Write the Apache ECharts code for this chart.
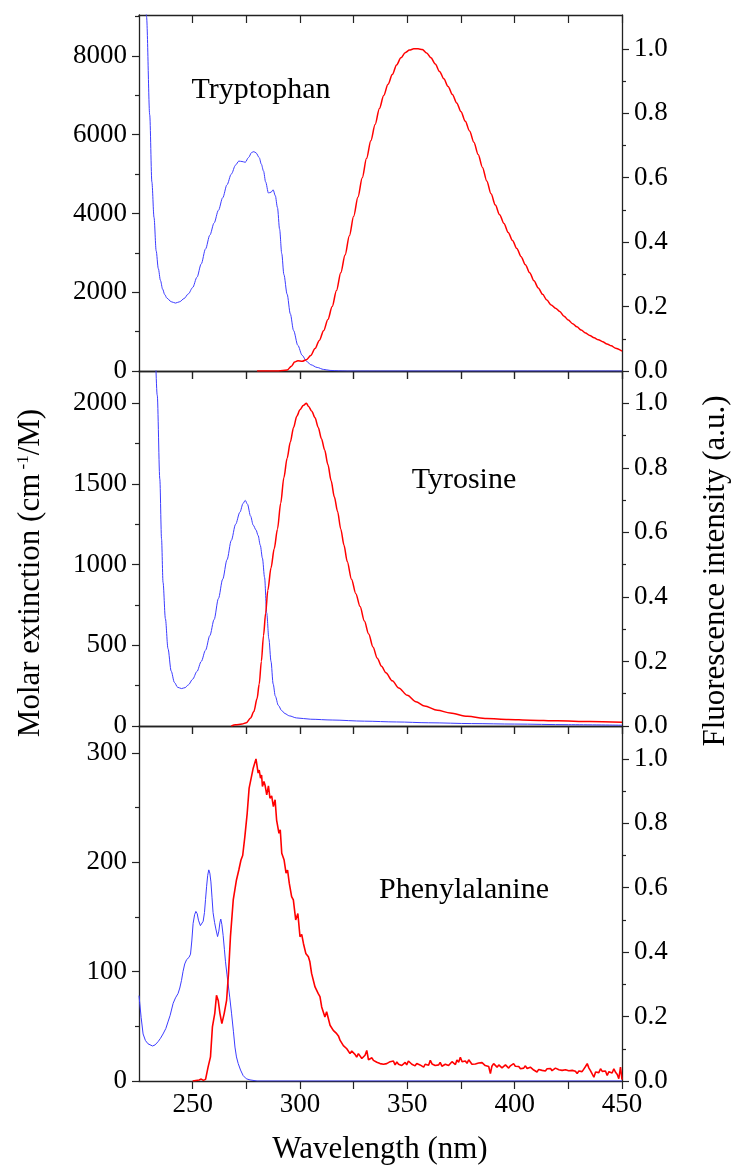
<!DOCTYPE html>
<html><head><meta charset="utf-8">
<script src="https://cdn.jsdelivr.net/npm/echarts@6/dist/echarts.min.js"></script>
<style>html,body{margin:0;padding:0;background:#fff}#c{width:734px;height:1167px}</style>
</head><body><div id="c"></div>
<script>
// ---------- data (wavelength nm, value) ----------
const wlTicks = [250,275,300,325,350,375,400,425,450];
const wlLabels = [250,300,350,400,450];
const flMajor = [0,0.2,0.4,0.6,0.8,1.0];
const flMinor = [0.1,0.3,0.5,0.7,0.9];
const trpMajor = [0,2000,4000,6000,8000];
const trpMinor = [1000,3000,5000,7000,9000];
const tyrMajor = [0,500,1000,1500,2000];
const tyrMinor = [250,750,1250,1750];
const pheMajor = [0,100,200,300];
const pheMinor = [50,150,250];
const names = ['Tryptophan','Tyrosine','Phenylalanine'];

const trpAbs = [[225,15000],[227,11000],[228.5,9000],[230,6500],[231,4800],[232,3900],[233,3050],[234,2600],[235,2300],[236,2080],[237,1940],[238,1850],[240,1760],[242,1725],[244,1760],[246,1840],[248,1960],[250,2120],[252,2380],[254,2720],[256,3100],[258,3450],[260,3760],[262,4080],[264,4400],[266,4730],[268,5000],[270,5230],[271.5,5330],[273,5320],[274.5,5300],[276,5420],[277.5,5550],[278.5,5570],[279.5,5540],[281,5420],[282,5250],[283,5080],[284,4800],[285.3,4520],[286.5,4540],[287.5,4600],[288.5,4450],[289.5,4150],[290.5,3600],[291.5,2980],[292.5,2450],[294,1950],[295.5,1450],[297,1030],[299,650],[301,400],[303,250],[305,160],[308,90],[311,40],[314,15],[318,5],[322,0],[330,0],[340,0],[360,0],[380,0],[400,0],[425,0],[450,0]];

const trpFl = [[280,0],[290,0],[294,0.003],[296,0.015],[297.5,0.028],[299,0.032],[301,0.03],[303,0.035],[305,0.048],[307,0.07],[309,0.095],[311,0.125],[313,0.16],[315,0.2],[317,0.25],[319,0.305],[321,0.36],[323,0.42],[325,0.48],[327,0.54],[329,0.6],[331,0.66],[333,0.715],[335,0.765],[337,0.815],[339,0.855],[341,0.89],[343,0.92],[345,0.95],[347,0.972],[349,0.988],[351,0.996],[353,1.0],[355,1.0],[357,0.998],[359,0.987],[361,0.972],[363,0.953],[365,0.93],[367,0.907],[369,0.883],[371,0.858],[373,0.832],[375,0.805],[377,0.775],[379,0.745],[381,0.71],[383,0.672],[385,0.632],[387,0.59],[389,0.55],[391,0.515],[393,0.485],[395,0.458],[397,0.43],[399,0.405],[401,0.38],[403,0.355],[405,0.33],[407,0.305],[409,0.28],[411,0.258],[413,0.238],[415,0.22],[417,0.205],[419,0.195],[421,0.185],[423,0.17],[425,0.158],[427,0.147],[429,0.137],[431,0.127],[433,0.118],[435,0.11],[437,0.103],[439,0.097],[441,0.091],[443,0.084],[445,0.078],[447,0.071],[450,0.062]];

const tyrAbs = [[225,5000],[229,3600],[232,2500],[233.5,2050],[234.7,1530],[235.5,1160],[236.2,890],[237.3,665],[238.5,480],[240,340],[241.5,270],[243,240],[244.8,232],[246.5,238],[248,255],[250,290],[252,338],[254,400],[256,470],[258,560],[260,660],[262,790],[264,910],[266,1030],[268,1150],[270,1250],[272,1325],[273.5,1380],[274.5,1398],[275.5,1375],[277,1300],[278.2,1245],[279.5,1215],[280.5,1180],[281.5,1120],[282.5,1040],[283.5,920],[284.5,700],[285.5,540],[286.5,400],[287.5,260],[288.5,185],[289.9,128],[291.5,95],[293,77],[295,63],[298.4,50],[305,42],[315,37],[330,30],[345,25],[360,20],[380,15],[400,12],[425,8],[450,5]];

const tyrFl = [[268,0],[270,0.004],[273,0.006],[275,0.01],[277,0.025],[278.5,0.045],[280,0.085],[281,0.13],[282,0.2],[283,0.28],[284,0.35],[285,0.42],[286.5,0.49],[288,0.55],[289.5,0.61],[291,0.69],[292.5,0.77],[294,0.83],[295.5,0.88],[297,0.925],[298.5,0.96],[300,0.98],[301.5,0.993],[303,1.0],[304,0.99],[305.5,0.975],[307,0.955],[308.5,0.925],[310,0.89],[311.5,0.855],[313,0.81],[314.5,0.76],[316,0.71],[317.5,0.665],[319,0.61],[320.5,0.56],[322,0.51],[324,0.455],[326,0.41],[328,0.37],[330,0.325],[332,0.285],[334,0.245],[336,0.21],[338,0.185],[340,0.165],[343,0.14],[346,0.118],[350,0.095],[354,0.075],[358,0.062],[364,0.049],[370,0.04],[378,0.03],[387,0.023],[397,0.02],[407,0.018],[420,0.016],[435,0.014],[450,0.012]];

const pheAbs = [[225,78],[225.3,72],[226,58],[226.9,43],[228,37],[229.2,34],[231.3,32],[232.5,33],[233.9,36],[235,39],[236.2,43],[237.5,48],[238.5,54],[239.5,60],[240.9,71],[242,76],[243.2,80],[244,85],[244.8,92],[245.5,100],[246.3,107],[247.2,111],[248.3,113],[249,116],[249.6,128],[250.2,144],[250.9,152],[251.5,155],[252.1,153],[252.7,147],[253.6,142],[254.3,143],[254.9,146],[255.5,154],[256,166],[256.5,178],[257,188],[257.5,193],[258,190],[258.5,182],[259,168],[259.5,154],[260.2,145],[260.8,139],[261.6,132],[262.2,137],[262.7,145],[263.1,148],[263.6,143],[264.2,133],[264.8,120],[265.3,109],[266,97],[266.5,89],[267.3,76],[268.1,62],[269,45],[269.7,31],[270.4,22],[271.2,16],[272.3,10],[273.5,5],[275,2],[276.7,1],[280,0],[300,0],[350,0],[400,0],[450,0]];

const pheFl = [[250,0],[253,0.003],[254,0.006],[255,0.002],[256,0.005],[257.2,0.044],[258.3,0.075],[259.2,0.168],[260.3,0.21],[261.1,0.266],[261.9,0.25],[262.7,0.21],[263.6,0.178],[264.7,0.21],[265.8,0.25],[266.7,0.334],[267.6,0.448],[268.9,0.562],[270.4,0.624],[271.5,0.655],[272.5,0.686],[273.3,0.7],[274.3,0.758],[275.4,0.831],[276.3,0.909],[277.1,0.906],[278.2,0.971],[279.5,1.0],[280.5,0.956],[281,0.965],[281.6,0.94],[282.1,0.95],[282.5,0.914],[283.2,0.93],[283.7,0.919],[284.5,0.888],[285.3,0.916],[286,0.878],[286.8,0.885],[287.6,0.852],[288.4,0.873],[289.1,0.81],[290.2,0.769],[290.8,0.78],[291.5,0.707],[292.6,0.686],[293.5,0.645],[294.2,0.655],[295,0.614],[296.1,0.572],[296.9,0.562],[298,0.5],[299,0.52],[300,0.448],[300.8,0.455],[301.6,0.427],[302.7,0.396],[303.9,0.386],[304.6,0.37],[305.4,0.334],[306.2,0.33],[307,0.292],[308.5,0.271],[309.3,0.262],[310.1,0.23],[310.8,0.236],[311.6,0.199],[312.4,0.215],[313.2,0.22],[314,0.173],[314.8,0.168],[315.5,0.157],[316.3,0.163],[317.1,0.147],[317.9,0.14],[318.7,0.126],[319.5,0.13],[320.2,0.11],[321,0.115],[321.8,0.1],[322.6,0.096],[323.3,0.085],[324.1,0.093],[324.9,0.09],[325.7,0.082],[326.4,0.074],[327.2,0.085],[328,0.079],[328.8,0.07],[329.5,0.069],[330.3,0.08],[331.1,0.095],[331.9,0.066],[332.7,0.064],[333.5,0.072],[334.2,0.064],[335,0.069],[335.8,0.058],[336.5,0.062],[337.3,0.054],[338.1,0.06],[338.9,0.052],[339.6,0.058],[340.4,0.054],[341.2,0.049],[342,0.06],[342.7,0.055],[343.5,0.062],[344.3,0.05],[345.1,0.059],[345.9,0.052],[346.6,0.057],[347.4,0.048],[348.2,0.054],[349,0.058],[349.7,0.05],[350.5,0.062],[351.3,0.064],[352.1,0.052],[352.8,0.058],[353.6,0.047],[354.4,0.054],[355.2,0.06],[355.9,0.05],[356.7,0.055],[357.6,0.043],[358.3,0.052],[359.1,0.058],[359.9,0.049],[360.7,0.064],[361.5,0.053],[362.2,0.059],[363,0.048],[363.8,0.054],[364.6,0.05],[365.3,0.058],[366.1,0.046],[366.9,0.043],[367.7,0.052],[368.5,0.056],[369.2,0.048],[370,0.053],[370.8,0.06],[371.6,0.059],[372.4,0.051],[373.1,0.065],[373.9,0.058],[374.7,0.074],[375.5,0.06],[376.2,0.054],[377,0.062],[377.8,0.055],[378.6,0.066],[379.3,0.064],[380.1,0.052],[380.9,0.058],[381.7,0.053],[382.4,0.049],[383.2,0.056],[384,0.05],[384.8,0.057],[385.5,0.059],[386.3,0.048],[387.1,0.053],[387.9,0.045],[388.7,0.023],[389.4,0.046],[390.2,0.054],[391,0.048],[391.8,0.043],[392.6,0.05],[393.3,0.045],[394.1,0.041],[394.9,0.043],[395.7,0.05],[396.5,0.044],[397.2,0.04],[398,0.047],[398.8,0.042],[399.5,0.054],[400.3,0.046],[401.1,0.041],[401.9,0.045],[402.7,0.038],[403.4,0.044],[404.2,0.04],[405,0.047],[405.8,0.039],[406.6,0.036],[407.3,0.043],[408.1,0.04],[408.9,0.034],[409.7,0.037],[410.4,0.028],[411.2,0.036],[412,0.04],[412.8,0.033],[413.5,0.037],[414.3,0.031],[415.1,0.038],[415.9,0.034],[416.7,0.039],[417.4,0.032],[418.2,0.036],[419,0.04],[419.8,0.043],[420.6,0.035],[421.3,0.038],[422.1,0.033],[422.9,0.028],[423.7,0.035],[424.4,0.039],[425.2,0.032],[426,0.038],[426.8,0.033],[427.6,0.036],[428.3,0.03],[429.1,0.023],[429.9,0.031],[430.7,0.035],[431.4,0.029],[432.2,0.037],[433,0.045],[433.8,0.054],[434.6,0.04],[435.3,0.032],[436.1,0.035],[436.9,0.012],[437.7,0.028],[438.5,0.033],[439.2,0.026],[440,0.038],[440.8,0.03],[441.6,0.024],[442.3,0.031],[443.1,0.017],[443.9,0.029],[444.7,0.034],[445.4,0.025],[446.2,0.038],[447,0.027],[447.8,0.02],[448.5,0.007],[449.3,0.043],[450,0.004]];

// ---------- layout ----------
const FONT = 'Liberation Serif';
const AX = '#222';
const BLUE = '#3c3cff';
const RED = '#ff0000';
const panels = [
  {top:15,  height:356, lMax:9040, lMajor:trpMajor, lMinor:trpMinor, rMax:1.105, abs:trpAbs, fl:trpFl, smooth:0.3, flW:1.5},
  {top:371, height:355, lMax:2200, lMajor:tyrMajor, lMinor:tyrMinor, rMax:1.1,   abs:tyrAbs, fl:tyrFl, smooth:0.3, flW:1.5},
  {top:726, height:355, lMax:324.5,lMajor:pheMajor, lMinor:pheMinor, rMax:1.102, abs:pheAbs, fl:pheFl, smooth:false, flW:1.6}
];

const grid=[], xAxis=[], yAxis=[], series=[];
panels.forEach((p,i)=>{
  grid.push({left:139, right:112, top:p.top, height:p.height});
  const isLast = i===panels.length-1;
  xAxis.push({type:'value', gridIndex:i, position:'bottom', min:225, max:450,
    axisLine:{show:true,onZero:false,lineStyle:{color:AX,width:1.3}},
    axisTick:{show:true,inside:false,length:8,customValues:wlTicks,lineStyle:{color:AX,width:1.2}},
    axisLabel:{show:isLast,customValues:wlLabels,margin:10,color:'#000',fontFamily:FONT,fontSize:27,
      formatter:v=>String(v)},
    splitLine:{show:false}});
  xAxis.push({type:'value', gridIndex:i, position:'top', min:225, max:450,
    axisLine:{show:true,onZero:false,lineStyle:{color:AX,width:1.3}},
    axisTick:{show:true,inside:true,length:8,customValues:wlTicks,lineStyle:{color:AX,width:1.2}},
    axisLabel:{show:false}, splitLine:{show:false}});
  const yBase = yAxis.length;
  yAxis.push({type:'value', gridIndex:i, position:'left', min:0, max:p.lMax,
    axisLine:{show:true,onZero:false,lineStyle:{color:AX,width:1.3}},
    axisTick:{show:true,length:7,customValues:p.lMajor,lineStyle:{color:AX,width:1.2}},
    axisLabel:{customValues:p.lMajor,margin:12,color:'#000',fontFamily:FONT,fontSize:27,
      formatter:v=>String(v)},
    splitLine:{show:false}});
  yAxis.push({type:'value', gridIndex:i, position:'left', min:0, max:p.lMax,
    axisLine:{show:false,onZero:false},
    axisTick:{show:true,length:4,customValues:p.lMinor,lineStyle:{color:AX,width:1.2}},
    axisLabel:{show:false}, splitLine:{show:false}});
  yAxis.push({type:'value', gridIndex:i, position:'right', min:0, max:p.rMax,
    axisLine:{show:true,onZero:false,lineStyle:{color:AX,width:1.3}},
    axisTick:{show:true,length:7,customValues:flMajor,lineStyle:{color:AX,width:1.2}},
    axisLabel:{customValues:flMajor,margin:12,color:'#000',fontFamily:FONT,fontSize:27,
      formatter:v=>Number(v).toFixed(1)},
    splitLine:{show:false}});
  yAxis.push({type:'value', gridIndex:i, position:'right', min:0, max:p.rMax,
    axisLine:{show:false,onZero:false},
    axisTick:{show:true,length:4,customValues:flMinor,lineStyle:{color:AX,width:1.2}},
    axisLabel:{show:false}, splitLine:{show:false}});
  series.push({type:'line', xAxisIndex:2*i, yAxisIndex:yBase, data:p.abs, showSymbol:false,
    smooth:p.smooth, smoothMonotone:'x', clip:true, lineStyle:{color:BLUE,width:1}, z:2});
  series.push({type:'line', xAxisIndex:2*i, yAxisIndex:yBase+2, data:p.fl, showSymbol:false,
    smooth:p.smooth, smoothMonotone:'x', clip:true, lineStyle:{color:RED,width:p.flW}, z:3});
});

const txt = (s, x, y, size, rot) => ({type:'text', x:x, y:y, rotation:rot||0, z:10,
  style:{text:s, fill:'#000', font:size+'px "'+FONT+'"', textAlign:'center', textVerticalAlign:'middle'}});

const graphic = [
  txt(names[0], 261, 90, 30),
  txt(names[1], 464, 480, 30),
  txt(names[2], 464, 890, 30),
  txt('Wavelength (nm)', 380, 1150, 31),
  txt('Fluorescence intensity (a.u.)', 716, 571, 31, Math.PI/2),
  {type:'text', x:31, y:573, rotation:Math.PI/2, z:10,
   style:{text:'{a|Molar extinction (cm}{s| -1}{a|/M)}', textAlign:'center', textVerticalAlign:'middle', fill:'#000',
     rich:{a:{fontSize:31,fontFamily:FONT,fill:'#000',color:'#000'},
           s:{fontSize:17,fontFamily:FONT,fill:'#000',color:'#000',verticalAlign:'top'}}}}
];

const chart = echarts.init(document.getElementById('c'), null, {renderer:'canvas'});
chart.setOption({animation:false, backgroundColor:'#fff', grid, xAxis, yAxis, series, graphic});
</script></body></html>
